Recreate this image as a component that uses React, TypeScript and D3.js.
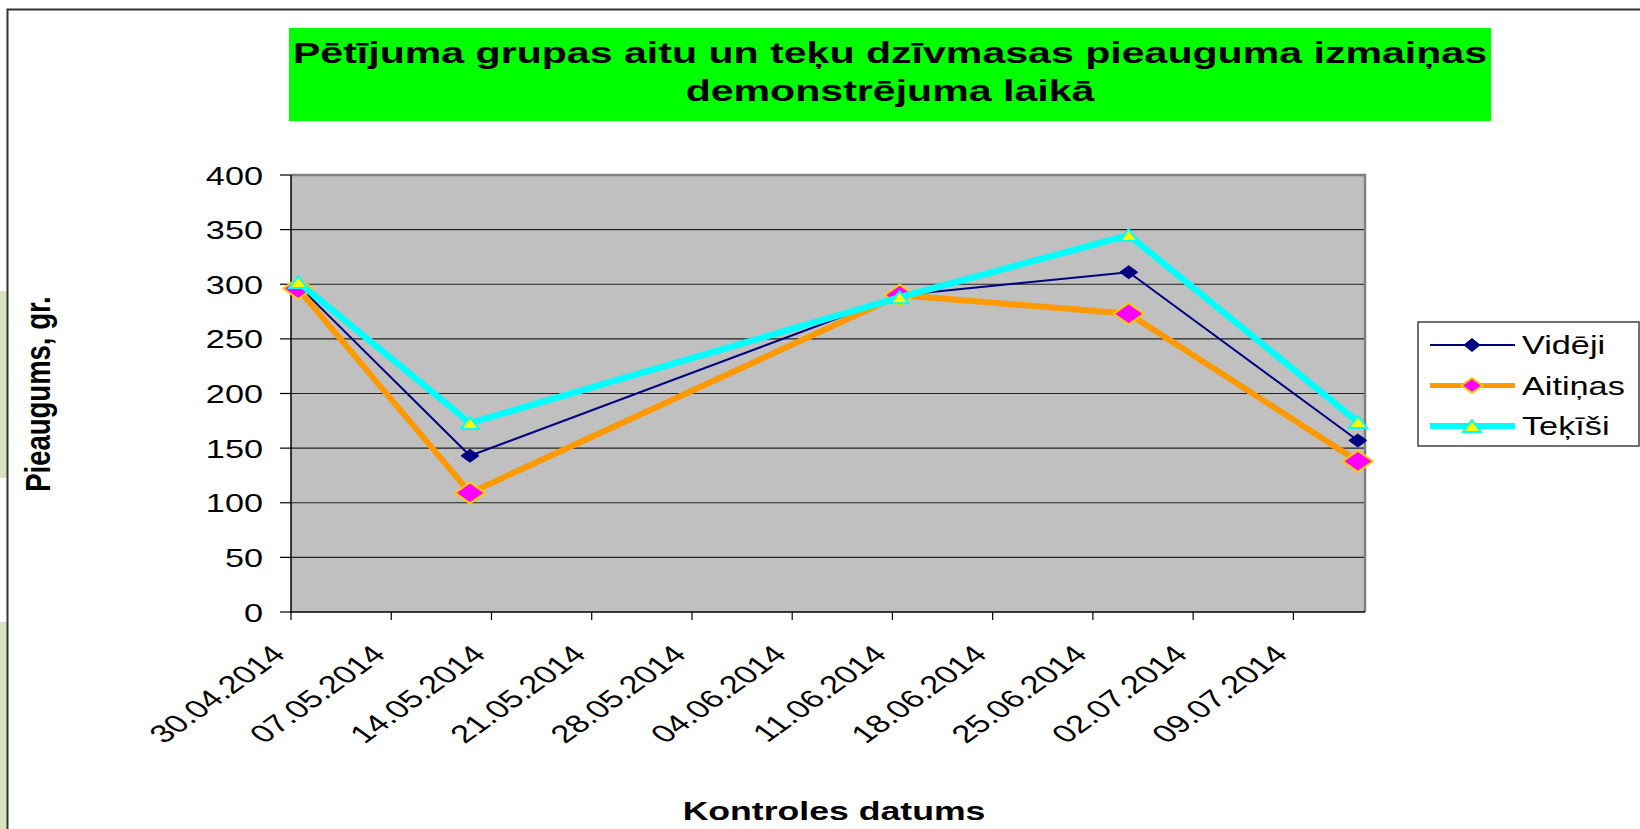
import { useEffect, useRef } from 'react';
import * as d3 from 'd3';

const dates = ['2014-04-30', '2014-05-12', '2014-06-11', '2014-06-27', '2014-07-13'];
const videji = [299, 143, 290, 311, 157];
const aitinas = [296, 109, 290, 273, 138];
const tekisi = [302, 173, 288, 345, 174];
const seriesNames = ['Vidēji', 'Aitiņas', 'Teķīši'];
const yTicks = [0, 50, 100, 150, 200, 250, 300, 350, 400];
const titleLines = [
  'Pētījuma grupas aitu un teķu dzīvmasas pieauguma izmaiņas',
  'demonstrējuma laikā',
];

const W = 1640;
const H = 829;
const SX = 1.37; // the source picture is stretched sideways
const FONT = "'Liberation Sans', Arial, sans-serif";

type Marker = { shape: 'diamond' | 'triangle'; fill: string; stroke: string; sw: number; w: number; h: number; lw: number; lh: number };

const styles: { color: string; width: number; legendWidth: number; marker: Marker }[] = [
  { color: '#000080', width: 2, legendWidth: 2, marker: { shape: 'diamond', fill: '#000080', stroke: '#000080', sw: 1, w: 9, h: 6.5, lw: 8, lh: 6.5 } },
  { color: '#FF9900', width: 6, legendWidth: 5, marker: { shape: 'diamond', fill: '#FF00FF', stroke: '#FFCC00', sw: 2, w: 15, h: 10.5, lw: 10.5, lh: 7.5 } },
  { color: '#00FFFF', width: 6.5, legendWidth: 6, marker: { shape: 'triangle', fill: '#FFFF00', stroke: '#00FFFF', sw: 2, w: 9, h: 6, lw: 9, lh: 6 } },
];

function markerPath(shape: string, w: number, h: number) {
  const p = d3.path();
  if (shape === 'diamond') {
    p.moveTo(0, -h);
    p.lineTo(w, 0);
    p.lineTo(0, h);
    p.lineTo(-w, 0);
  } else {
    p.moveTo(0, -h);
    p.lineTo(w, h);
    p.lineTo(-w, h);
  }
  p.closePath();
  return p.toString();
}

export default function App() {
  const svgRef = useRef<SVGSVGElement>(null);

  useEffect(() => {
    if (!svgRef.current) return;
    const svg = d3.select(svgRef.current);
    svg.selectAll('*').remove();

    const left = 291;
    const right = 1365;
    const top = 175;
    const bottom = 612;

    const parse = d3.utcParse('%Y-%m-%d');
    const days = dates.map((d) => parse(d) as Date);
    const start = days[0];
    const end = d3.utcDay.offset(days[days.length - 1], 1);

    const x = d3.scaleUtc().domain([start, end]).range([left, right]);
    const y = d3.scaleLinear().domain([0, 400]).range([bottom, top]);
    const xTicks = d3.utcWednesday.range(start, d3.utcDay.offset(end, -4));
    const fmt = d3.utcFormat('%d.%m.%Y');

    const text = (
      px: number, py: number, s: string, size: number,
      opts: { weight?: string; anchor?: string; rotate?: number; sx?: number } = {}
    ) =>
      svg.append('text')
        .attr('transform', `translate(${px},${py}) scale(${opts.sx ?? SX},1) rotate(${opts.rotate ?? 0})`)
        .attr('font-family', FONT)
        .attr('font-size', size)
        .attr('font-weight', opts.weight ?? 'normal')
        .attr('text-anchor', opts.anchor ?? 'start')
        .attr('fill', '#000')
        .text(s);

    // slide background bits and chart area border
    svg.append('rect').attr('x', 0).attr('y', 0).attr('width', W).attr('height', H).attr('fill', '#fff');
    svg.append('rect').attr('x', 0).attr('y', 291).attr('width', 7).attr('height', 187).attr('fill', '#D7E3BC');
    svg.append('rect').attr('x', 0).attr('y', 622).attr('width', 7).attr('height', 207).attr('fill', '#D7E3BC');
    svg.append('path')
      .attr('d', `M${W},9.5 H7.5 V${H}`)
      .attr('fill', 'none')
      .attr('stroke', '#333')
      .attr('stroke-width', 2);

    // title
    svg.append('rect')
      .attr('x', 289).attr('y', 28).attr('width', 1202).attr('height', 93)
      .attr('fill', '#00FF00');
    titleLines.forEach((t, i) => text(890, 63 + i * 38, t, 30, { weight: 'bold', anchor: 'middle' }));

    // plot area
    svg.append('rect')
      .attr('x', left).attr('y', top).attr('width', right - left).attr('height', bottom - top)
      .attr('fill', '#C0C0C0');

    svg.append('g')
      .selectAll('line')
      .data(yTicks.slice(1))
      .join('line')
      .attr('x1', left).attr('x2', right)
      .attr('y1', (d) => y(d)).attr('y2', (d) => y(d))
      .attr('stroke', '#222')
      .attr('stroke-width', 1.2);

    svg.append('path')
      .attr('d', `M${left},${top} H${right} V${bottom}`)
      .attr('fill', 'none')
      .attr('stroke', '#808080')
      .attr('stroke-width', 2.5);

    // y axis
    svg.append('line')
      .attr('x1', left).attr('x2', left).attr('y1', top).attr('y2', bottom + 1)
      .attr('stroke', '#000').attr('stroke-width', 1.5);
    yTicks.forEach((v) => {
      svg.append('line')
        .attr('x1', left - 11).attr('x2', left).attr('y1', y(v)).attr('y2', y(v))
        .attr('stroke', '#000').attr('stroke-width', 1.2);
      text(263, y(v) + 9.5, String(v), 25, { anchor: 'end' });
    });

    // x axis
    svg.append('line')
      .attr('x1', left).attr('x2', right).attr('y1', bottom).attr('y2', bottom)
      .attr('stroke', '#000').attr('stroke-width', 1.5);
    xTicks.forEach((d) => {
      svg.append('line')
        .attr('x1', x(d)).attr('x2', x(d)).attr('y1', bottom).attr('y2', bottom + 8)
        .attr('stroke', '#000').attr('stroke-width', 1.2);
      text(x(d) - 4, 656, fmt(d), 25, { anchor: 'end', rotate: -45, sx: 1.39 });
    });

    // axis titles
    text(834, 820, 'Kontroles datums', 26, { weight: 'bold', anchor: 'middle' });
    text(50, 394, 'Pieaugums, gr.', 27.5, { weight: 'bold', anchor: 'middle', rotate: -90, sx: 1.3 });

    // series (points sit in the middle of their day)
    const all = [videji, aitinas, tekisi];
    const px = (i: number) => x(d3.utcHour.offset(days[i], 12));
    all.forEach((vals, si) => {
      const st = styles[si];
      const line = d3.line<number>().x((_, i) => px(i)).y((v) => y(v));
      svg.append('path')
        .attr('d', line(vals) as string)
        .attr('fill', 'none')
        .attr('stroke', st.color)
        .attr('stroke-width', st.width)
        .attr('stroke-linejoin', 'miter');
      const m = st.marker;
      vals.forEach((v, i) => {
        svg.append('path')
          .attr('d', markerPath(m.shape, m.w, m.h))
          .attr('transform', `translate(${px(i)},${y(v)})`)
          .attr('fill', m.fill)
          .attr('stroke', m.stroke)
          .attr('stroke-width', m.sw);
      });
    });

    // legend
    const lg = svg.append('g');
    lg.append('rect')
      .attr('x', 1418).attr('y', 322).attr('width', 221).attr('height', 124)
      .attr('fill', '#fff').attr('stroke', '#404040').attr('stroke-width', 1.5);
    seriesNames.forEach((name, i) => {
      const st = styles[i];
      const ry = 345 + i * 40.5;
      lg.append('line')
        .attr('x1', 1430).attr('x2', 1515).attr('y1', ry).attr('y2', ry)
        .attr('stroke', st.color).attr('stroke-width', st.legendWidth);
      const m = st.marker;
      lg.append('path')
        .attr('d', markerPath(m.shape, m.lw, m.lh))
        .attr('transform', `translate(1472,${ry})`)
        .attr('fill', m.fill)
        .attr('stroke', m.stroke)
        .attr('stroke-width', m.sw);
      text(1522, ry + 9, name, 25);
    });
  }, []);

  return (
    <svg
      ref={svgRef}
      width={W}
      height={H}
      style={{ position: 'absolute', left: 0, top: 0, display: 'block' }}
    />
  );
}
